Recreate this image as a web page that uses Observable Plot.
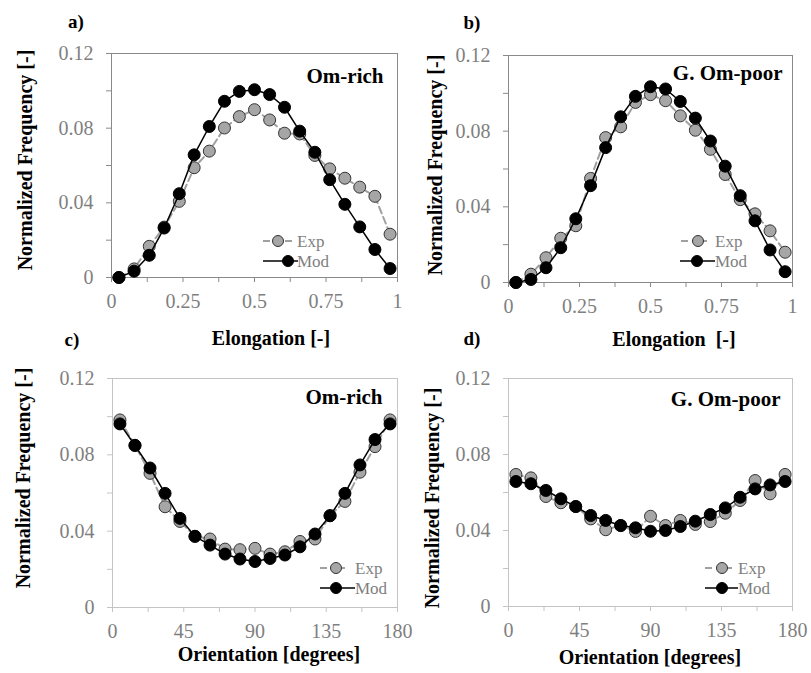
<!DOCTYPE html>
<html>
<head>
<meta charset="utf-8">
<script src="https://cdn.jsdelivr.net/npm/d3@7"></script>
<script src="https://cdn.jsdelivr.net/npm/@observablehq/plot@0.6"></script>
<style>
  html, body { margin: 0; padding: 0; background: #fff; }
  #wrap { position: relative; width: 811px; height: 673px; overflow: hidden; background: #fff; }
  #wrap svg { position: absolute; }
  .lbl { position: absolute; font-family: "Liberation Serif", "Times New Roman", serif; font-weight: bold; color: #000; white-space: nowrap; transform: translate(-50%, -50%); }
  .ytitle { transform: translate(-50%, -50%) rotate(-90deg); }
</style>
</head>
<body>
<div id="wrap"></div>
<script>
// ---------- data ----------
const elongationX = [0.026, 0.079, 0.132, 0.184, 0.237, 0.289, 0.342, 0.395, 0.447, 0.5, 0.553, 0.605, 0.658, 0.711, 0.763, 0.816, 0.868, 0.921, 0.974];
const orientationX = [4.7, 14.2, 23.7, 33.2, 42.6, 52.1, 61.6, 71.1, 80.5, 90, 99.5, 108.9, 118.4, 127.9, 137.4, 146.8, 156.3, 165.8, 175.3];

const omRichElongExp = [0, 0.0046, 0.0167, 0.027, 0.0408, 0.0588, 0.0677, 0.0801, 0.0862, 0.0899, 0.0844, 0.0773, 0.0769, 0.0654, 0.0582, 0.0532, 0.0484, 0.0435, 0.0232];
const omRichElongMod = [0, 0.0034, 0.0119, 0.0265, 0.0449, 0.0657, 0.0809, 0.0944, 0.0997, 0.1006, 0.098, 0.0912, 0.0784, 0.0671, 0.0524, 0.0392, 0.0271, 0.015, 0.0048];

const omPoorElongExp = [0, 0.0044, 0.0131, 0.0234, 0.030, 0.055, 0.0766, 0.0823, 0.0952, 0.0993, 0.0961, 0.0881, 0.0805, 0.0704, 0.0571, 0.0438, 0.0363, 0.0273, 0.016];
const omPoorElongMod = [0, 0.0016, 0.0078, 0.0184, 0.0337, 0.0512, 0.0713, 0.0876, 0.0984, 0.1035, 0.1023, 0.0957, 0.0869, 0.0748, 0.0615, 0.0459, 0.0326, 0.0172, 0.0057];

const omRichOrientExp = [0.0983, 0.085, 0.0703, 0.0528, 0.0451, 0.0373, 0.0359, 0.0306, 0.0303, 0.031, 0.028, 0.0292, 0.0346, 0.0359, 0.0481, 0.0556, 0.0709, 0.0843, 0.0983];
const omRichOrientMod = [0.0962, 0.0849, 0.0731, 0.0598, 0.0467, 0.0373, 0.0327, 0.028, 0.0254, 0.0241, 0.0257, 0.0275, 0.0318, 0.0385, 0.0481, 0.0598, 0.0747, 0.088, 0.0962];

const omPoorOrientExp = [0.0695, 0.0677, 0.0579, 0.0546, 0.0526, 0.0461, 0.0404, 0.0426, 0.0395, 0.0475, 0.0426, 0.0453, 0.0432, 0.0447, 0.0491, 0.0558, 0.0663, 0.0593, 0.0695];
const omPoorOrientMod = [0.0658, 0.0646, 0.0611, 0.0567, 0.0526, 0.0479, 0.0453, 0.0426, 0.0414, 0.0396, 0.04, 0.0421, 0.0449, 0.0484, 0.0519, 0.0575, 0.0619, 0.064, 0.0658];

const yTicks = [0, 0.02, 0.04, 0.06, 0.08, 0.10, 0.12];
const yTickLabels = ["0", "", "0.04", "", "0.08", "", "0.12"];
const elongTicks = [0, 0.125, 0.25, 0.375, 0.5, 0.625, 0.75, 0.875, 1];
const elongTickLabels = ["0", "", "0.25", "", "0.5", "", "0.75", "", "1"];
const orientTicks = [0, 22.5, 45, 67.5, 90, 112.5, 135, 157.5, 180];
const orientTickLabels = ["0", "", "45", "", "90", "", "135", "", "180"];

const seriesNames = ["Exp", "Mod"];
const panelLetters = ["a)", "b)", "c)", "d)"];
const panelTitles = ["Om-rich", "G. Om-poor", "Om-rich", "G. Om-poor"];
const yTitle = "Normalized Frequency [-]";
const xTitles = ["Elongation [-]", "Elongation\u00a0 [-]", "Orientation [degrees]", "Orientation [degrees]"];

// ---------- styling ----------
const SERIF = "Liberation Serif, Times New Roman, serif";
const EXP_FILL = "#a6a6a6", EXP_LINE = "#a0a0a0", DOT_STROKE = "#333";
const LABEL_GRAY = "#7f7f7f";

function legendMark(cfg) {
  return (index, scales, values, dim) => {
    const R = dim.width - dim.marginRight, B = dim.height - dim.marginBottom;
    const g = d3.create("svg:g").attr("font-family", SERIF).attr("text-anchor", "start");
    // Exp row
    g.append("line").attr("x1", R + cfg.e1).attr("x2", R + cfg.e2)
      .attr("y1", B + cfg.ey).attr("y2", B + cfg.ey)
      .attr("stroke", EXP_LINE).attr("stroke-width", 2).attr("stroke-dasharray", "7,4");
    g.append("circle").attr("cx", R + cfg.em).attr("cy", B + cfg.ey).attr("r", 5.5)
      .attr("fill", EXP_FILL).attr("stroke", DOT_STROKE).attr("stroke-width", 1);
    g.append("text").attr("x", R + cfg.t).attr("y", B + cfg.ey).attr("dy", "0.35em")
      .attr("fill", LABEL_GRAY).attr("font-size", 17).attr("text-anchor", "start").text(seriesNames[0]);
    // Mod row
    g.append("line").attr("x1", R + cfg.m1).attr("x2", R + cfg.m2)
      .attr("y1", B + cfg.my).attr("y2", B + cfg.my)
      .attr("stroke", "#000").attr("stroke-width", 1.5);
    g.append("circle").attr("cx", R + cfg.mm).attr("cy", B + cfg.my).attr("r", 5.5)
      .attr("fill", "#000").attr("stroke", "#000");
    g.append("text").attr("x", R + cfg.t).attr("y", B + cfg.my).attr("dy", "0.35em")
      .attr("fill", LABEL_GRAY).attr("font-size", 17).attr("text-anchor", "start").text(seriesNames[1]);
    return g.node();
  };
}

function panel(o) {
  const rows = o.x.map((x, i) => ({x, exp: o.exp[i], mod: o.mod[i]}));
  const xMap = new Map(o.xTicks.map((t, i) => [t, o.xLabels[i]]));
  const yMap = new Map(yTicks.map((t, i) => [t, yTickLabels[i]]));
  const svg = Plot.plot({
    width: o.width, height: o.height,
    marginTop: o.mt, marginRight: o.mr, marginBottom: o.mb, marginLeft: o.ml,
    style: {fontFamily: SERIF, fontSize: "20px", background: "transparent", overflow: "visible"},
    x: {domain: o.xDomain},
    y: {domain: [0, 0.12]},
    marks: [
      Plot.axisX({ticks: o.xTicks, tickFormat: d => xMap.get(d) ?? "", tickSize: 5, tickPadding: 11, color: o.frame, fill: LABEL_GRAY, fontSize: 20, fontFamily: SERIF, label: null}),
      Plot.axisY({ticks: yTicks, tickFormat: d => yMap.get(d) ?? "", tickSize: 5, tickPadding: 13, color: o.frame, fill: LABEL_GRAY, fontSize: 20, fontFamily: SERIF, label: null}),
      Plot.frame({stroke: o.frame}),
      Plot.line(rows, {x: "x", y: "exp", stroke: EXP_LINE, strokeWidth: 2, strokeDasharray: "7,4"}),
      Plot.dot(rows, {x: "x", y: "exp", r: 6, fill: EXP_FILL, stroke: DOT_STROKE, strokeWidth: 1}),
      Plot.line(rows, {x: "x", y: "mod", stroke: "#000", strokeWidth: 1.5}),
      Plot.dot(rows, {x: "x", y: "mod", r: 6, fill: "#000", stroke: "#000", strokeWidth: 1}),
      Plot.text([o.title], {frameAnchor: "top-right", dx: o.tdx, dy: o.tdy, textAnchor: "end", lineAnchor: "middle", fontWeight: "bold", fontSize: 21, fontFamily: SERIF, fill: "#000"}),
      legendMark(o.legend)
    ]
  });
  svg.style.left = o.left + "px";
  svg.style.top = o.top + "px";
  return svg;
}

const wrap = document.getElementById("wrap");

wrap.appendChild(panel({
  left: 0, top: 0, width: 405, height: 320, mt: 53, mr: 8, mb: 43, ml: 111,
  x: elongationX, exp: omRichElongExp, mod: omRichElongMod, xDomain: [0, 1],
  xTicks: elongTicks, xLabels: elongTickLabels, frame: "#8a8a8a",
  title: panelTitles[0], tdx: -14, tdy: 23,
  legend: {e1: -134, e2: -104, em: -119, ey: -36, m1: -134, m2: -99, mm: -109, my: -16, t: -100}
}));
wrap.appendChild(panel({
  left: 405, top: 0, width: 406, height: 320, mt: 55, mr: 19, mb: 38, ml: 103,
  x: elongationX, exp: omPoorElongExp, mod: omPoorElongMod, xDomain: [0, 1],
  xTicks: elongTicks, xLabels: elongTickLabels, frame: "#8a8a8a",
  title: panelTitles[1], tdx: -10, tdy: 18,
  legend: {e1: -111, e2: -85, em: -94, ey: -41, m1: -112, m2: -77, mm: -95, my: -21, t: -77}
}));
wrap.appendChild(panel({
  left: 0, top: 330, width: 405, height: 320, mt: 48, mr: 8, mb: 43, ml: 112,
  x: orientationX, exp: omRichOrientExp, mod: omRichOrientMod, xDomain: [0, 180],
  xTicks: orientTicks, xLabels: orientTickLabels, frame: "#c4c4c4",
  title: panelTitles[2], tdx: -15, tdy: 19,
  legend: {e1: -77, e2: -52, em: -61, ey: -39, m1: -77, m2: -42, mm: -61, my: -19, t: -42}
}));
wrap.appendChild(panel({
  left: 405, top: 330, width: 406, height: 320, mt: 48, mr: 19, mb: 44, ml: 103,
  x: orientationX, exp: omPoorOrientExp, mod: omPoorOrientMod, xDomain: [0, 180],
  xTicks: orientTicks, xLabels: orientTickLabels, frame: "#c4c4c4",
  title: panelTitles[3], tdx: -12, tdy: 21,
  legend: {e1: -87, e2: -60, em: -70, ey: -38, m1: -87, m2: -54, mm: -70, my: -18, t: -54}
}));

function label(text, x, y, size, cls) {
  const d = document.createElement("div");
  d.className = "lbl" + (cls ? " " + cls : "");
  d.style.left = x + "px";
  d.style.top = y + "px";
  d.style.fontSize = size + "px";
  d.textContent = text;
  wrap.appendChild(d);
}
// panel letters
label(panelLetters[0], 76, 22, 19);
label(panelLetters[1], 472, 23, 19);
label(panelLetters[2], 72, 340, 19);
label(panelLetters[3], 472, 339, 19);
// y titles
label(yTitle, 25, 160, 20, "ytitle");
label(yTitle, 435, 165, 20, "ytitle");
label(yTitle, 23, 478, 20, "ytitle");
label(yTitle, 432, 498, 20, "ytitle");
// x titles
label(xTitles[0], 271, 338, 20);
label(xTitles[1], 674, 339, 20);
label(xTitles[2], 269, 654, 20);
label(xTitles[3], 650, 657, 20);
</script>
</body>
</html>
